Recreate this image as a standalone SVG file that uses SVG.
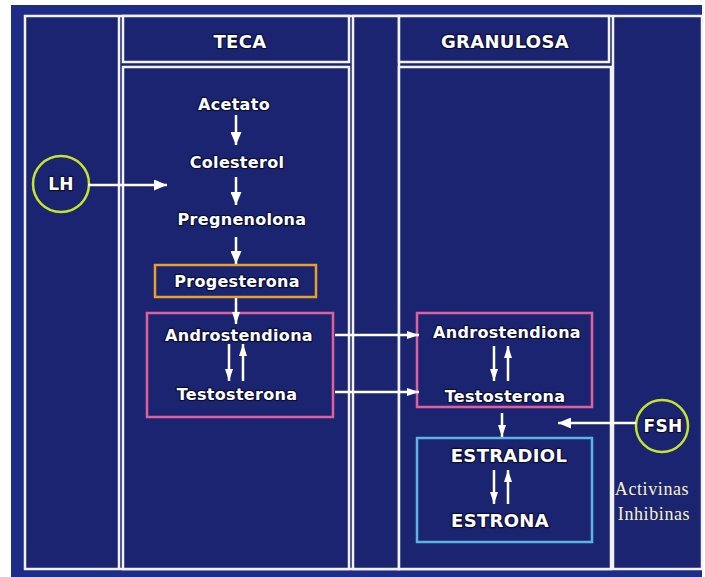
<svg xmlns="http://www.w3.org/2000/svg" width="705" height="577" viewBox="0 0 705 577">
<style>
.frame{fill:none;stroke:#f2f2f2;stroke-width:2.5}
.panel{fill:#1b2470;stroke:#f2f2f2;stroke-width:2.5}
.t{font-family:"DejaVu Sans","Liberation Sans",sans-serif;font-weight:bold;fill:#ffffff;text-anchor:middle;paint-order:stroke;stroke:#0b0f38;stroke-width:2.5;stroke-linejoin:round;letter-spacing:0.3px}
.h{font-size:18px}
.b{font-size:16px}
.c{font-size:18px}
.s{font-family:"Liberation Serif","Times New Roman",serif;font-size:18px;fill:#f6f2cc;text-anchor:middle;letter-spacing:0.6px}
.conn{stroke:#ffffff;stroke-width:2.5;fill:none}
.circ{fill:none;stroke:#c6e42c;stroke-width:2.5}
</style>
<defs>
<marker id="ah" markerUnits="userSpaceOnUse" markerWidth="13" markerHeight="11" refX="13" refY="5.5" orient="auto">
<path d="M0,0 L13,5.5 L0,11 Z" fill="#ffffff"/>
</marker>
<marker id="ahn" markerUnits="userSpaceOnUse" markerWidth="12" markerHeight="8" refX="12" refY="4" orient="auto">
<path d="M0,0 L12,4 L0,8 Z" fill="#ffffff"/>
</marker>
</defs>
<rect x="0" y="0" width="705" height="577" fill="#ffffff"/>
<rect x="11" y="5" width="691" height="572" fill="#1d2c86"/>
<g id="frame">
<rect x="25" y="16" width="677" height="553" fill="#1b2470"/>
<rect class="frame" x="25" y="16" width="677" height="553"/>
<line class="frame" x1="119" y1="16" x2="119" y2="569"/>
<rect class="panel" x="123" y="16" width="226" height="46"/>
<rect class="panel" x="123" y="67" width="226" height="502"/>
<rect class="panel" x="353" y="16" width="46" height="553"/>
<rect class="panel" x="399" y="16" width="210" height="46"/>
<rect class="panel" x="399" y="67" width="212" height="502"/>
<line class="frame" x1="613" y1="16" x2="613" y2="569"/>
</g>
<g id="node-teca"><text class="t h" x="240" y="48">TECA</text></g>
<g id="node-granulosa"><text class="t h" x="505" y="48">GRANULOSA</text></g>
<g id="node-lh">
<circle class="circ" cx="61" cy="184" r="28"/>
<text class="t" style="font-size:17px" x="61" y="190">LH</text>
</g>
<g id="node-fsh">
<circle class="circ" cx="662" cy="426" r="26"/>
<text class="t" style="font-size:17px" x="663" y="432">FSH</text>
</g>
<g id="node-acetato"><text class="t b" x="234" y="110">Acetato</text></g>
<g id="node-colesterol"><text class="t b" x="237" y="168">Colesterol</text></g>
<g id="node-pregnenolona"><text class="t b" x="242" y="225">Pregnenolona</text></g>
<g id="node-progesterona">
<rect x="155" y="265" width="161" height="32" fill="none" stroke="#e8a02c" stroke-width="2.5"/>
<text class="t b" x="237" y="287">Progesterona</text>
</g>
<g id="node-teca-androgens">
<rect x="147" y="313" width="186" height="104" fill="none" stroke="#e0609c" stroke-width="2.5"/>
<text class="t b" x="239" y="341">Androstendiona</text>
<text class="t b" x="237" y="400">Testosterona</text>
</g>
<g id="node-granulosa-androgens">
<rect x="417" y="313" width="175" height="94" fill="none" stroke="#e0609c" stroke-width="2.5"/>
<text class="t b" x="507" y="338">Androstendiona</text>
<text class="t b" x="505" y="402">Testosterona</text>
</g>
<g id="node-estrogens">
<rect x="417" y="438" width="175" height="104" fill="none" stroke="#5cb4e4" stroke-width="2.5"/>
<text class="t c" x="509" y="462">ESTRADIOL</text>
<text class="t c" x="500" y="527">ESTRONA</text>
</g>
<g id="node-activinas">
<text class="s" x="652" y="495">Activinas</text>
<text class="s" x="654" y="520">Inhibinas</text>
</g>
<g id="connectors">
<line class="conn" x1="88" y1="185" x2="167" y2="185" marker-end="url(#ah)"/>
<line class="conn" x1="236" y1="115" x2="236" y2="145" marker-end="url(#ah)"/>
<line class="conn" x1="236" y1="177" x2="236" y2="205" marker-end="url(#ah)"/>
<line class="conn" x1="236" y1="237" x2="236" y2="264" marker-end="url(#ah)"/>
<line class="conn" x1="236" y1="298" x2="236" y2="324" marker-end="url(#ahn)"/>
<line class="conn" x1="229" y1="344" x2="229" y2="381" marker-end="url(#ahn)"/>
<line class="conn" x1="243" y1="381" x2="243" y2="344" marker-end="url(#ahn)"/>
<line class="conn" x1="335" y1="335" x2="419" y2="335" marker-end="url(#ahn)"/>
<line class="conn" x1="335" y1="392" x2="419" y2="392" marker-end="url(#ahn)"/>
<line class="conn" x1="494" y1="346" x2="494" y2="381" marker-end="url(#ahn)"/>
<line class="conn" x1="508" y1="381" x2="508" y2="346" marker-end="url(#ahn)"/>
<line class="conn" x1="502" y1="413" x2="502" y2="437" marker-end="url(#ahn)"/>
<line class="conn" x1="636" y1="423" x2="558" y2="423" marker-end="url(#ah)"/>
<line class="conn" x1="494" y1="470" x2="494" y2="504" marker-end="url(#ahn)"/>
<line class="conn" x1="508" y1="504" x2="508" y2="470" marker-end="url(#ahn)"/>
</g>
</svg>
